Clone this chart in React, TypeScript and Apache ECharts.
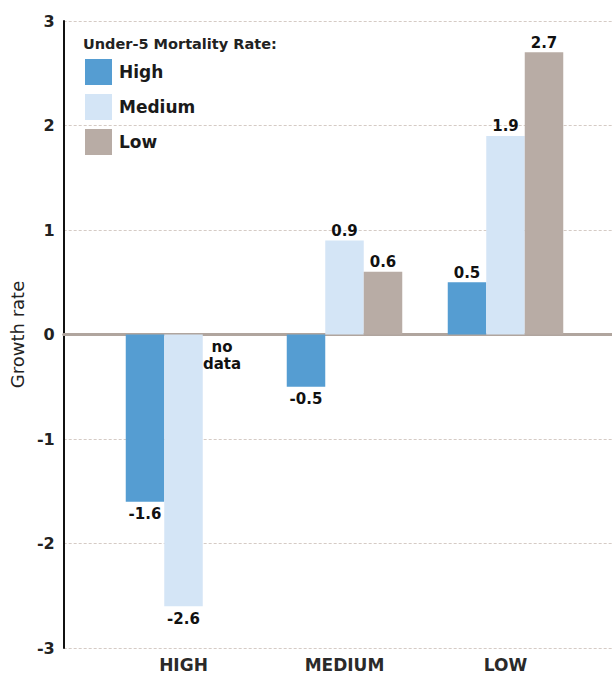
import React, { useEffect, useRef } from "react";
import * as echarts from "echarts";

const categories = ["HIGH", "MEDIUM", "LOW"];
const seriesNames = ["High", "Medium", "Low"];
const highData: (number | null)[] = [-1.6, -0.5, 0.5];
const mediumData: (number | null)[] = [-2.6, 0.9, 1.9];
const lowData: (number | null)[] = [null, 0.6, 2.7];
const yTicks = { min: -3, max: 3, interval: 1 };
const legendTitle = "Under-5 Mortality Rate:";
const axisName = "Growth rate";
const noDataText = "no\ndata";

const colors = ["#559dd2", "#d4e5f6", "#b8aca5"];
const FONT = "DejaVu Sans";

function buildData(arr: (number | null)[]) {
  return arr.map((v) => {
    if (v === null) {
      return {
        value: 0,
        itemStyle: { color: "rgba(0,0,0,0)" },
        label: {
          show: true,
          position: "bottom",
          distance: 4,
          formatter: noDataText,
          lineHeight: 17,
          align: "center",
        },
      };
    }
    return {
      value: v,
      label: { show: true, position: v < 0 ? "bottom" : "top", distance: v < 0 ? 5 : 2 },
    };
  });
}

export default function App() {
  const ref = useRef<HTMLDivElement>(null);
  useEffect(() => {
    if (!ref.current) return;
    document.body.style.margin = "0";
    const chart = echarts.init(ref.current, undefined, { renderer: "svg" });
    const dataSets = [highData, mediumData, lowData];
    chart.setOption({
      animation: false,
      backgroundColor: "#ffffff",
      title: {
        text: legendTitle,
        left: 83,
        top: 36,
        padding: 0,
        textStyle: { fontFamily: FONT, fontSize: 14.5, fontWeight: "bold", color: "#222" },
      },
      legend: {
        data: seriesNames,
        orient: "vertical",
        left: 85,
        top: 59,
        padding: 0,
        itemWidth: 27,
        itemHeight: 26,
        itemGap: 9,
        icon: "rect",
        textStyle: { fontFamily: FONT, fontSize: 17, fontWeight: "bold", color: "#1a1a1a", padding: [0, 0, 0, 2] },
      },
      grid: [
        { left: 61, right: 0, top: 21, bottom: 27 },
        { left: 103, right: 26, top: 21, bottom: 27 },
      ],
      xAxis: [
        {
          gridIndex: 0,
          type: "value",
          min: 0,
          max: 1,
          axisLine: { show: true, onZero: true, lineStyle: { color: "#b0a59e", width: 3 } },
          axisTick: { show: false },
          axisLabel: { show: false },
          splitLine: { show: false },
        },
        {
          gridIndex: 1,
          type: "category",
          data: categories,
          axisLine: { show: false },
          axisTick: { show: false },
          axisLabel: { fontFamily: FONT, fontSize: 17, fontWeight: "bold", color: "#2a2a2a", margin: 8 },
        },
      ],
      yAxis: [
        {
          gridIndex: 0,
          type: "value",
          min: yTicks.min,
          max: yTicks.max,
          interval: yTicks.interval,
          name: axisName,
          nameLocation: "middle",
          nameGap: 27,
          nameTextStyle: { fontFamily: FONT, fontSize: 18, color: "#222" },
          axisLine: { show: true, onZero: false, lineStyle: { color: "#111", width: 2 } },
          axisTick: { show: false },
          axisLabel: { fontFamily: FONT, fontSize: 16, fontWeight: "bold", color: "#222", margin: 9 },
          splitLine: { show: true, lineStyle: { color: "#d5cbc5", type: [3, 2], width: 1 } },
        },
        {
          gridIndex: 1,
          type: "value",
          min: yTicks.min,
          max: yTicks.max,
          interval: yTicks.interval,
          show: false,
          splitLine: { show: false },
        },
      ],
      series: seriesNames.map((name, i) => ({
        name,
        type: "bar",
        xAxisIndex: 1,
        yAxisIndex: 1,
        barWidth: 38.5,
        barGap: "0%",
        itemStyle: { color: colors[i] },
        label: {
          show: true,
          fontFamily: FONT,
          fontSize: 15,
          fontWeight: "bold",
          color: "#111",
        },
        data: buildData(dataSets[i]),
      })),
    });
    return () => chart.dispose();
  }, []);
  return <div ref={ref} style={{ width: 612, height: 675 }} />;
}
